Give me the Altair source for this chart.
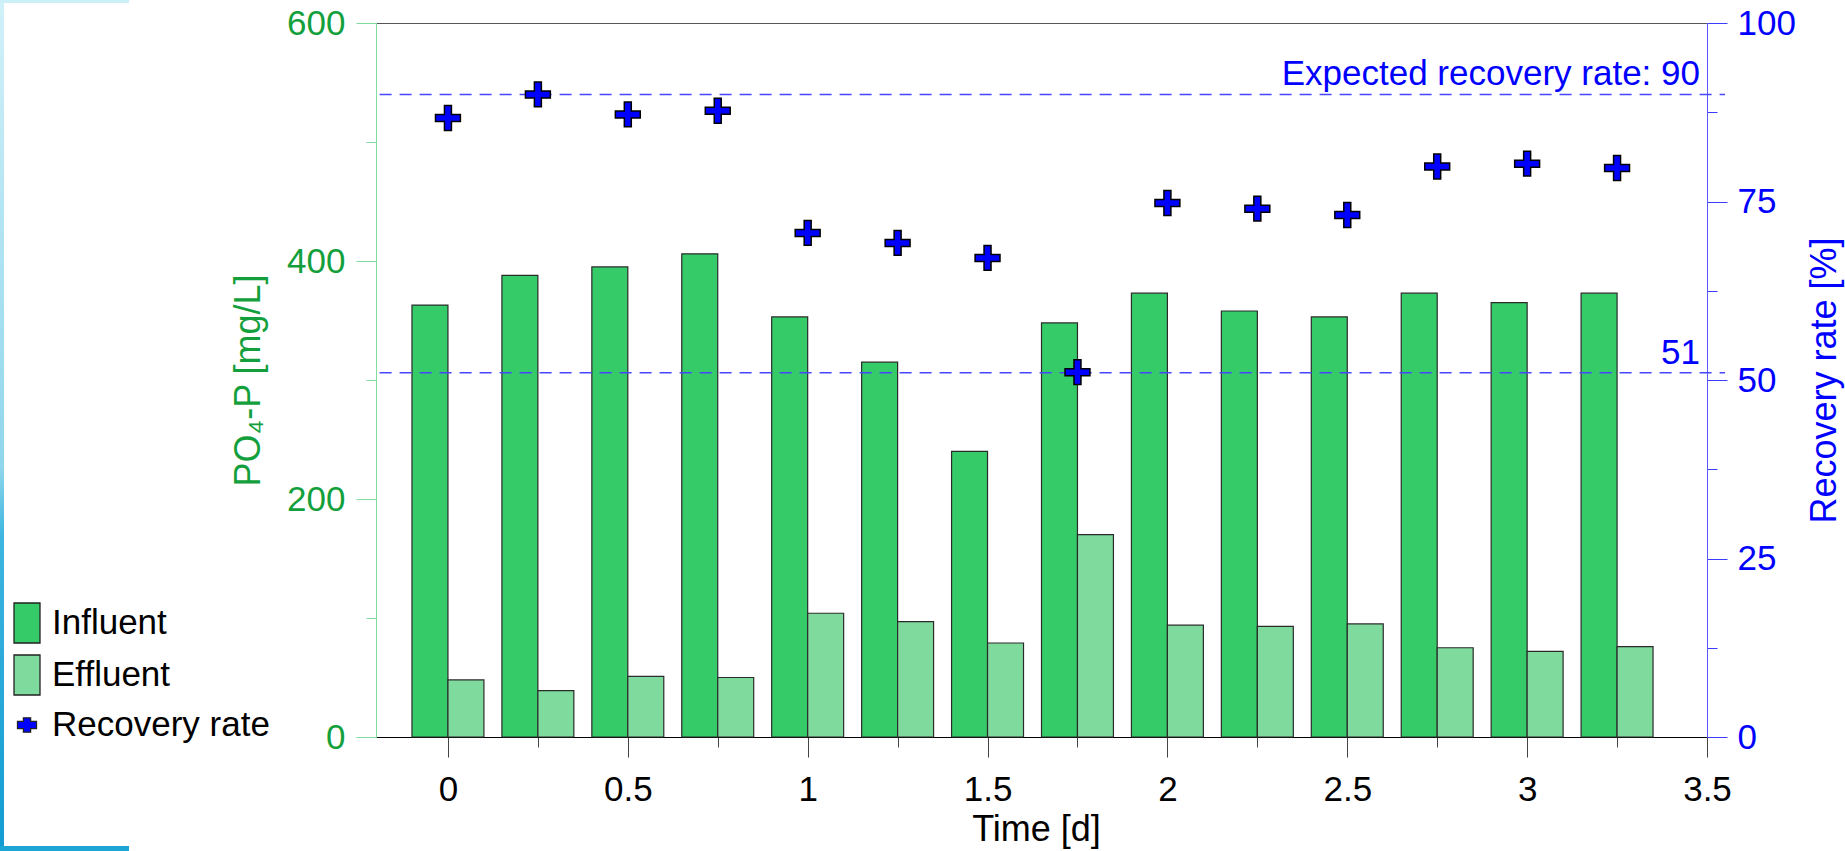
import altair as alt
import pandas as pd

# Sampling times [d] and measured concentrations / recovery rates
time_d = [0, 0.25, 0.5, 0.75, 1, 1.25, 1.5, 1.75, 2, 2.25, 2.5, 2.75, 3, 3.25]
influent = [363, 388, 395, 406, 353, 315, 240, 348, 373, 358, 353, 373, 365, 373]
effluent = [48, 39, 51, 50, 104, 97, 79, 170, 94, 93, 95, 75, 72, 76]
recovery = [86.7, 90.0, 87.2, 87.7, 70.6, 69.2, 67.1, 51.1, 74.8, 74.0, 73.1, 79.9, 80.3, 79.7]

# Reference levels for the recovery rate
ref_rates = [90, 51]
ref_labels = ["Expected recovery rate: 90", "51"]

# Axis tick positions (major ticks carry labels)
x_major = [0, 0.5, 1, 1.5, 2, 2.5, 3, 3.5]
x_minor = [0.25, 0.75, 1.25, 1.75, 2.25, 2.75, 3.25]
left_major = [0, 200, 400, 600]
left_minor = [100, 300, 500]
right_major = [0, 25, 50, 75, 100]
right_minor = [12.5, 37.5, 62.5, 87.5]

series_names = ["Influent", "Effluent", "Recovery rate"]
series_colors = ["#35CB69", "#7FDA9D", "#0000FF"]

FONT = "Liberation Sans"
BAR_W = 0.1
X_MIN, X_MAX = -0.2, 3.5

bar_rows = []
for t, vi, ve in zip(time_d, influent, effluent):
    bar_rows.append({"t": t, "start": t - BAR_W, "end": t, "value": vi, "base": 0, "series": "Influent"})
    bar_rows.append({"t": t, "start": t, "end": t + BAR_W, "value": ve, "base": 0, "series": "Effluent"})
bar_df = pd.DataFrame(bar_rows)

rec_df = pd.DataFrame({"t": time_d, "rate": recovery, "series": "Recovery rate"})

ref_df = pd.DataFrame({
    "rate": ref_rates,
    "label": ref_labels,
    "x_start": [-0.19, -0.19],
    "x_end": [3.55, 3.55],
    "x_label": [X_MAX, X_MAX],
})

x_scale = alt.Scale(domain=[X_MIN, X_MAX], nice=False, zero=False)
conc_scale = alt.Scale(domain=[0, 600], nice=False)
rate_scale = alt.Scale(domain=[0, 100], nice=False)
color_scale = alt.Scale(domain=series_names, range=series_colors)

PLUS = "M-1,-0.28H-0.28V-1H0.28V-0.28H1V0.28H0.28V1H-0.28V0.28H-1Z"
LEG_RECT = "M-0.65,-1H0.65V1H-0.65Z"
LEG_PLUS = "M-0.475,-0.18H-0.18V-0.36H0.18V-0.18H0.475V0.18H0.18V0.36H-0.18V0.18H-0.475Z"

legend = alt.Legend(
    orient="none", legendX=-370, legendY=579, direction="vertical", title=None,
    labelFont=FONT, labelFontSize=35, labelColor="black", labelLimit=500,
    labelOffset=4, rowPadding=6, padding=0,
    symbolSize=1600, symbolStrokeColor="#222222",
    symbolStrokeWidth=1.3, symbolOpacity=1,
    symbolType={"expr": f"datum.value === 'Recovery rate' ? '{LEG_PLUS}' : '{LEG_RECT}'"},
)

TXT = dict(labelFont=FONT, labelFontSize=35, titleFont=FONT, titleFontSize=36,
           titleFontWeight="normal", labelOverlap=False, labelFlush=False, grid=False)

x_axis = alt.Axis(
    orient="bottom", values=x_major, format=".1~f",
    tickSize=20, tickColor="#444444", domainColor="black",
    labelColor="black", labelBaseline="alphabetic", labelPadding=43,
    title="Time [d]", titleColor="black", titleBaseline="alphabetic", titleAlign="center",
    titleX=660, titleY=103, **TXT,
)
x_axis_minor = alt.Axis(orient="bottom", values=x_minor, tickSize=10, tickColor="#444444",
                        labels=False, domain=False, grid=False, title=None)

top_axis = alt.Axis(orient="top", labels=False, ticks=False, grid=False,
                    domainColor="#555555", title=None)

left_axis = alt.Axis(
    orient="left", values=left_major, format="d",
    tickSize=20, tickColor="#7FDDA0", domainColor="#7FDDA0",
    labelColor="#13A03C", labelPadding=11,
    title="PO\u2084-P [mg/L]", titleColor="#13A03C", titleAngle=270,
    titleBaseline="alphabetic", titleAlign="center", titleX=-117, titleY=357, **TXT,
)
left_axis_minor = alt.Axis(orient="left", values=left_minor, tickSize=10, tickColor="#7FDDA0",
                           labels=False, domain=False, grid=False, title=None)

right_axis = alt.Axis(
    orient="right", values=right_major, format="d",
    tickSize=20, tickColor="#3C3CFF", domainColor="#5A5AFF",
    labelColor="#0000FF", labelPadding=10,
    title="Recovery rate [%]", titleColor="#0000FF", titleAngle=270,
    titleBaseline="alphabetic", titleAlign="center", titleX=128, titleY=357, **TXT,
)
right_axis_minor = alt.Axis(orient="right", values=right_minor, tickSize=10, tickColor="#3C3CFF",
                            labels=False, domain=False, grid=False, title=None)

# Decorative slide-frame strips along the left edge
one = pd.DataFrame({"k": [0]})
edge_gradient = {
    "gradient": "linear", "x1": 0, "y1": 0, "x2": 0, "y2": 1,
    "stops": [
        {"offset": 0, "color": "#D2F1F9"},
        {"offset": 0.55, "color": "#8FD6EC"},
        {"offset": 0.63, "color": "#3DB5E0"},
        {"offset": 1, "color": "#129CD2"},
    ],
}
strip_left = alt.Chart(one).mark_rect(color=edge_gradient).encode(
    x=alt.value(-376), x2=alt.value(-372), y=alt.value(-23), y2=alt.value(828))
strip_top = alt.Chart(one).mark_rect(color="#CDEFF7").encode(
    x=alt.value(-376), x2=alt.value(-247), y=alt.value(-23), y2=alt.value(-20))
strip_bottom = alt.Chart(one).mark_rect(color="#1BA6D6").encode(
    x=alt.value(-376), x2=alt.value(-247), y=alt.value(823), y2=alt.value(828))

bars = alt.Chart(bar_df).mark_bar(stroke="#2B2B2B", strokeWidth=1.2, opacity=1).encode(
    x=alt.X("start:Q", scale=x_scale, axis=x_axis),
    x2="end:Q",
    y=alt.Y("value:Q", scale=conc_scale, axis=left_axis),
    y2="base:Q",
    color=alt.Color("series:N", scale=color_scale, legend=legend),
)

# Invisible copy of the bars that only carries the minor ticks
bars_minor = alt.Chart(bar_df).mark_bar(opacity=0).encode(
    x=alt.X("start:Q", scale=x_scale, axis=x_axis_minor),
    x2="end:Q",
    y=alt.Y("value:Q", scale=conc_scale, axis=left_axis_minor),
    y2="base:Q",
)

bar_layer = alt.layer(strip_left, strip_top, strip_bottom, bars_minor, bars).resolve_axis(
    x="independent", y="independent")

ref_rules = alt.Chart(ref_df).mark_rule(
    color="#4646FF", strokeWidth=1.5, strokeDash=[12, 8]
).encode(
    x=alt.X("x_start:Q", scale=x_scale, axis=None),
    x2="x_end:Q",
    y=alt.Y("rate:Q", scale=rate_scale, axis=None),
)

ref_text = alt.Chart(ref_df).mark_text(
    align="right", baseline="alphabetic", dx=-7, dy=-9,
    font=FONT, fontSize=35, color="#0000FF",
).encode(
    x=alt.X("x_label:Q", scale=x_scale, axis=None),
    y=alt.Y("rate:Q", scale=rate_scale, axis=None),
    text="label:N",
)

points_minor = alt.Chart(rec_df).mark_point(opacity=0).encode(
    x=alt.X("t:Q", scale=x_scale, axis=None),
    y=alt.Y("rate:Q", scale=rate_scale, axis=right_axis_minor),
)

points = alt.Chart(rec_df).mark_point(
    shape=PLUS, size=620, filled=True, opacity=1, stroke="black", strokeWidth=1.5
).encode(
    x=alt.X("t:Q", scale=x_scale, axis=top_axis),
    y=alt.Y("rate:Q", scale=rate_scale, axis=right_axis),
    color=alt.Color("series:N", scale=color_scale, legend=legend),
)

rate_layer = alt.layer(ref_rules, ref_text, points_minor, points).resolve_axis(
    x="independent", y="independent")

chart = (
    alt.layer(bar_layer, rate_layer)
    .resolve_scale(y="independent")
    .resolve_axis(x="independent", y="independent")
    .properties(
        width=1331, height=714,
        padding={"left": 376, "top": 23, "right": 138, "bottom": 114},
        autosize=alt.AutoSizeParams(type="none"),
        background="white",
    )
    .configure(font=FONT)
    .configure_view(stroke=None)
)

chart.save("out.html", embed_options={"renderer": "svg", "actions": False})
